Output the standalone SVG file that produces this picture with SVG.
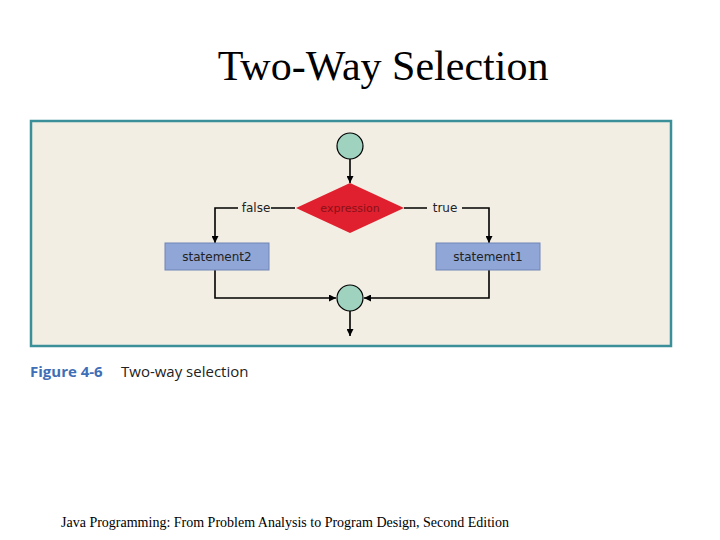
<svg xmlns="http://www.w3.org/2000/svg" width="720" height="540" viewBox="0 0 720 540">
<style>
.c{fill:#9fd3c0;stroke:#000;stroke-width:1.2}
.b{fill:#8fa6d6;stroke:#6f86b6;stroke-width:1}
.l{fill:none;stroke:#000;stroke-width:1.6}
.t{font-family:"DejaVu Sans",sans-serif;font-size:12px;fill:#222}
</style>
<defs><marker id="a" viewBox="0 0 10 10" refX="10" refY="5" markerWidth="7" markerHeight="7" orient="auto" markerUnits="userSpaceOnUse"><path d="M0,0L10,5L0,10z" fill="#000"/></marker></defs>
<rect width="720" height="540" fill="#fff"/>
<text x="383" y="80" text-anchor="middle" font-family="Liberation Serif,serif" font-size="42">Two-Way Selection</text>
<rect x="31" y="121" width="640" height="225" fill="#f2eee3" stroke="#3a8f98" stroke-width="2.5"/>
<g id="connectors">
<path class="l" d="M350,159V183" marker-end="url(#a)"/>
<path class="l" d="M295,208H271M238,208H215V243" marker-end="url(#a)"/>
<path class="l" d="M404,208H427M462,208H489V243" marker-end="url(#a)"/>
<path class="l" d="M215,270V298H336" marker-end="url(#a)"/>
<path class="l" d="M489,270V298H364" marker-end="url(#a)"/>
<path class="l" d="M350,311V336" marker-end="url(#a)"/>
<text class="t" x="256" y="212" text-anchor="middle">false</text>
<text class="t" x="445" y="212" text-anchor="middle">true</text>
</g>
<g id="start"><circle class="c" cx="350" cy="146" r="13"/></g>
<g id="expression"><polygon points="350,183 404,208 350,233 296,208" fill="#e0202e"/><text x="350" y="212" text-anchor="middle" font-family="DejaVu Sans,sans-serif" font-size="11" fill="#8a1018">expression</text></g>
<g id="statement2"><rect class="b" x="165" y="243" width="104" height="27"/><text class="t" x="217" y="261" text-anchor="middle">statement2</text></g>
<g id="statement1"><rect class="b" x="436" y="243" width="104" height="27"/><text class="t" x="488" y="261" text-anchor="middle">statement1</text></g>
<g id="join"><circle class="c" cx="350" cy="298" r="13"/></g>
<text x="30" y="377" font-family="Open Sans,sans-serif" font-size="15" font-weight="bold" fill="#3f6fb6">Figure 4-6</text>
<text x="121" y="377" font-family="Open Sans,sans-serif" font-size="15" fill="#222">Two-way selection</text>
<text x="285" y="527" text-anchor="middle" font-family="Liberation Serif,serif" font-size="14">Java Programming: From Problem Analysis to Program Design, Second Edition</text>
</svg>
